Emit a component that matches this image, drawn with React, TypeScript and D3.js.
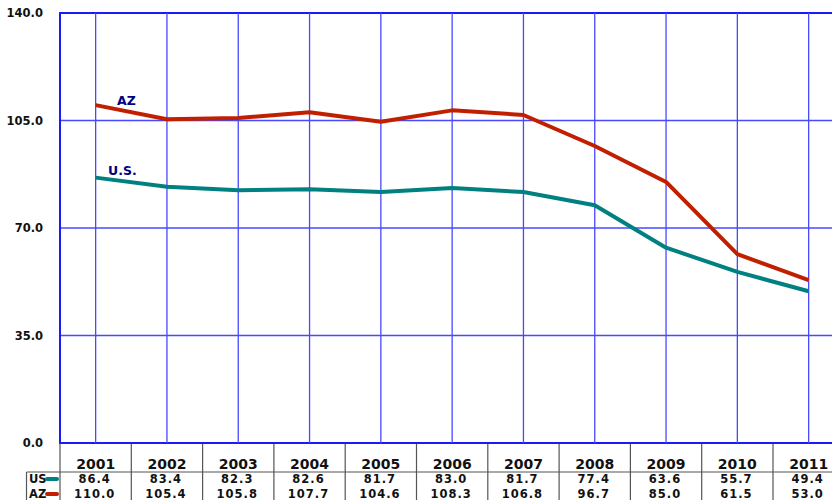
import * as d3 from "d3";

const years = ["2001", "2002", "2003", "2004", "2005", "2006", "2007", "2008", "2009", "2010", "2011"];
const usValues = [86.4, 83.4, 82.3, 82.6, 81.7, 83.0, 81.7, 77.4, 63.6, 55.7, 49.4];
const azValues = [110.0, 105.4, 105.8, 107.7, 104.6, 108.3, 106.8, 96.7, 85.0, 61.5, 53.0];
const yTicks = [0, 35, 70, 105, 140];

const W = 832;
const H = 500;
const left = 60;
const top = 13;
const bottom = 443;
const bandW = 71.3;

const FONT = "'DejaVu Sans', Verdana, sans-serif";
const US_COLOR = "#008080";
const AZ_COLOR = "#c02000";
const GRID = "#4848ff";
const AXIS = "#1a1aff";
const TABLE = "#555555";

export default function App() {
  const x = d3
    .scaleBand<string>()
    .domain(years)
    .range([left, left + bandW * years.length])
    .padding(0);
  const y = d3.scaleLinear().domain([0, 140]).range([bottom, top]);
  const cx = (yr: string) => (x(yr) ?? 0) + x.bandwidth() / 2;

  const line = d3
    .line<number>()
    .x((_, i) => cx(years[i]))
    .y((d) => y(d));

  const rows = [
    { name: "US", color: US_COLOR, values: usValues, base: 483, mid: 479 },
    { name: "AZ", color: AZ_COLOR, values: azValues, base: 498, mid: 494 },
  ];

  return (
    <svg width={W} height={H} style={{ position: "absolute", left: 0, top: 0, background: "#fff" }}>
      {/* horizontal grid */}
      {yTicks.map((t) => (
        <line
          key={"h" + t}
          x1={left}
          x2={W}
          y1={y(t)}
          y2={y(t)}
          stroke={t === 0 || t === 140 ? AXIS : GRID}
          strokeWidth={t === 0 || t === 140 ? 2 : 1.3}
        />
      ))}
      {/* vertical grid */}
      {years.map((yr) => (
        <line key={"v" + yr} x1={cx(yr)} x2={cx(yr)} y1={top} y2={bottom} stroke={GRID} strokeWidth={1.3} />
      ))}
      <line x1={left} x2={left} y1={top - 1} y2={bottom + 1} stroke={AXIS} strokeWidth={2} />

      {/* y labels */}
      {yTicks.map((t) => (
        <text
          key={"yl" + t}
          x={43}
          y={y(t) + 4}
          textAnchor="end"
          fontFamily={FONT}
          fontWeight="bold"
          fontSize={11.5}
          fill="#111"
        >
          {t.toFixed(1)}
        </text>
      ))}

      {/* series lines */}
      <path d={line(usValues) ?? ""} fill="none" stroke={US_COLOR} strokeWidth={4} strokeLinejoin="round" />
      <path d={line(azValues) ?? ""} fill="none" stroke={AZ_COLOR} strokeWidth={4} strokeLinejoin="round" />

      <text x={117} y={105} fontFamily={FONT} fontWeight="bold" fontSize={12.5} fill="#000080">
        AZ
      </text>
      <text x={108} y={175} fontFamily={FONT} fontWeight="bold" fontSize={12.5} fill="#000080">
        U.S.
      </text>

      {/* data table */}
      {years.map((yr) => (
        <line
          key={"tv" + yr}
          x1={x(yr)}
          x2={x(yr)}
          y1={bottom + 1}
          y2={H}
          stroke={TABLE}
          strokeWidth={1.2}
        />
      ))}
      <line x1={26.5} x2={26.5} y1={472} y2={H} stroke={TABLE} strokeWidth={1.2} />
      <line x1={26.5} x2={W} y1={472} y2={472} stroke={TABLE} strokeWidth={1.2} />

      {years.map((yr) => (
        <text
          key={"yr" + yr}
          x={cx(yr)}
          y={469}
          textAnchor="middle"
          fontFamily={FONT}
          fontWeight="bold"
          fontSize={14}
          fill="#111"
        >
          {yr}
        </text>
      ))}

      {rows.map((r) => (
        <g key={r.name}>
          <text x={29} y={r.base} fontFamily={FONT} fontWeight="bold" fontSize={11.5} fill="#111">
            {r.name}
          </text>
          <line x1={47} x2={57} y1={r.mid} y2={r.mid} stroke={r.color} strokeWidth={4} strokeLinecap="round" />
          {r.values.map((v, i) => (
            <text
              key={i}
              x={cx(years[i]) - 1}
              y={r.base}
              textAnchor="middle"
              fontFamily={FONT}
              fontWeight="bold"
              fontSize={11.5}
              letterSpacing={1}
              fill="#111"
            >
              {v.toFixed(1)}
            </text>
          ))}
        </g>
      ))}
    </svg>
  );
}
